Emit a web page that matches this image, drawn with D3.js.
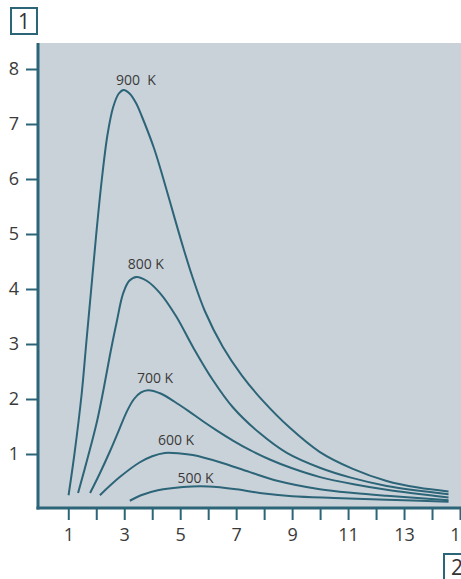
<!DOCTYPE html>
<html>
<head>
<meta charset="utf-8">
<script src="https://cdn.jsdelivr.net/npm/d3@7"></script>
<style>
  body { margin: 0; background: #fff; }
  svg { display: block; font-family: "Open Sans", "Noto Sans", sans-serif; }
  .tick text { fill: #3a3a3a; }
</style>
</head>
<body>
<div id="chart"></div>
<script>
// wavelength (x) and relative radiance (y)
var k900x = [1.01, 1.22, 1.48, 1.64, 1.82, 2.0, 2.2, 2.4, 2.6, 2.8, 2.98, 3.2, 3.42, 3.62, 4.07, 4.4, 4.75, 5.11, 5.45, 5.88, 6.52, 7.2, 7.95, 8.91, 9.98, 11.17, 12.38, 13.5, 14.59];
var k900y = [0.25, 1.0, 2.1, 3.0, 4.0, 5.0, 6.0, 6.8, 7.3, 7.55, 7.62, 7.55, 7.38, 7.15, 6.55, 6.0, 5.38, 4.75, 4.2, 3.6, 2.95, 2.43, 1.97, 1.48, 1.04, 0.73, 0.51, 0.39, 0.32];

var k800x = [1.35, 1.72, 2.03, 2.27, 2.49, 2.73, 2.96, 3.18, 3.44, 3.8, 4.27, 4.86, 5.45, 6.16, 6.88, 7.84, 8.81, 9.99, 11.1, 12.38, 14.59];
var k800y = [0.29, 0.98, 1.6, 2.2, 2.8, 3.4, 3.92, 4.15, 4.22, 4.15, 3.93, 3.5, 2.95, 2.35, 1.85, 1.38, 1.02, 0.75, 0.57, 0.42, 0.27];

var k700x = [1.78, 2.13, 2.49, 2.8, 3.1, 3.35, 3.6, 3.85, 4.3, 4.8, 5.3, 5.8, 6.3, 6.9, 7.5, 8.2, 9.0, 10.0, 11.2, 12.38, 14.59];
var k700y = [0.29, 0.65, 1.05, 1.42, 1.78, 2.0, 2.12, 2.16, 2.1, 1.95, 1.78, 1.6, 1.43, 1.24, 1.07, 0.9, 0.74, 0.58, 0.45, 0.35, 0.21];

var k600x = [2.13, 2.84, 3.56, 4.0, 4.45, 5.0, 5.45, 6.42, 7.49, 8.5, 9.99, 11.2, 12.38, 14.59];
var k600y = [0.25, 0.58, 0.85, 0.96, 1.02, 1.01, 0.98, 0.85, 0.67, 0.51, 0.36, 0.29, 0.24, 0.16];

var k500x = [3.2, 3.6, 4.2, 5.1, 6.0, 7.0, 8.0, 9.0, 10.5, 12.38, 14.59];
var k500y = [0.15, 0.25, 0.34, 0.4, 0.41, 0.36, 0.28, 0.23, 0.2, 0.17, 0.13];

var seriesNames = ["900  K", "800 K", "700 K", "600 K", "500 K"];
// label anchor (centre x, baseline y) in data units
var labelX = [3.42, 3.77, 4.1, 4.85, 5.55];
var labelY = [7.71, 4.36, 2.30, 1.16, 0.47];

var xTicks = [1, 2, 3, 4, 5, 6, 7, 8, 9, 10, 11, 12, 13, 14, 15];
var yTicks = [1, 2, 3, 4, 5, 6, 7, 8];

var W = 461, H = 579;
var teal = "#2c6478";

var x = d3.scaleLinear().domain([0, 15]).range([40.3, 460]);
var y = d3.scaleLinear().domain([0, 8]).range([509, 69]);

var svg = d3.select("#chart").append("svg")
    .attr("width", W)
    .attr("height", H);

// plot background
svg.append("rect")
    .attr("x", 38)
    .attr("y", 43)
    .attr("width", W - 38)
    .attr("height", 508 - 43)
    .attr("fill", "#cad2d9");

var series = [
  [k900x, k900y], [k800x, k800y], [k700x, k700y], [k600x, k600y], [k500x, k500y]
].map(function(s) {
  return s[0].map(function(v, i) { return {x: v, y: s[1][i]}; });
});

var line = d3.line()
    .x(function(d) { return x(d.x); })
    .y(function(d) { return y(d.y); })
    .curve(d3.curveCatmullRom.alpha(0.5));

svg.selectAll(".curve")
    .data(series)
    .enter().append("path")
    .attr("class", "curve")
    .attr("d", line)
    .attr("fill", "none")
    .attr("stroke", teal)
    .attr("stroke-width", 2);

svg.selectAll(".lbl")
    .data(seriesNames)
    .enter().append("text")
    .attr("class", "lbl")
    .attr("x", function(d, i) { return x(labelX[i]); })
    .attr("y", function(d, i) { return y(labelY[i]); })
    .attr("text-anchor", "middle")
    .attr("font-size", 14)
    .attr("fill", "#3a3a3a")
    .style("white-space", "pre")
    .text(function(d) { return d; });

// Y axis
var yAxis = svg.append("g")
    .attr("transform", "translate(38,0)")
    .call(d3.axisLeft(y).tickValues(yTicks).tickSize(12).tickPadding(7).tickFormat(d3.format("d")));
yAxis.select(".domain").remove();
yAxis.selectAll("line").attr("stroke", teal).attr("stroke-width", 2);
yAxis.selectAll("text").attr("font-size", 18).attr("font-family", "Open Sans, sans-serif");

// X axis
var xAxis = svg.append("g")
    .attr("transform", "translate(0,508)")
    .call(d3.axisBottom(x).tickValues(xTicks).tickSize(12).tickPadding(8)
      .tickFormat(function(d) { return d % 2 ? d : ""; }));
xAxis.select(".domain").remove();
xAxis.selectAll("line").attr("stroke", teal).attr("stroke-width", 2);
xAxis.selectAll("text").attr("font-size", 18).attr("font-family", "Open Sans, sans-serif");

// thick axis lines
svg.append("line")
    .attr("x1", 38).attr("x2", 38).attr("y1", 43).attr("y2", 509.5)
    .attr("stroke", teal).attr("stroke-width", 3);
svg.append("line")
    .attr("x1", 36.5).attr("x2", W).attr("y1", 508).attr("y2", 508)
    .attr("stroke", teal).attr("stroke-width", 3);

// numbered boxes
function box(bx, by, t) {
  svg.append("rect")
      .attr("x", bx).attr("y", by)
      .attr("width", 26).attr("height", 26)
      .attr("fill", "#fff")
      .attr("stroke", teal).attr("stroke-width", 2);
  svg.append("text")
      .attr("x", bx + 13).attr("y", by + 21)
      .attr("text-anchor", "middle")
      .attr("font-size", 21)
      .attr("fill", "#333")
      .text(t);
}
box(11, 8, "1");
box(444, 554, "2");
</script>
</body>
</html>
